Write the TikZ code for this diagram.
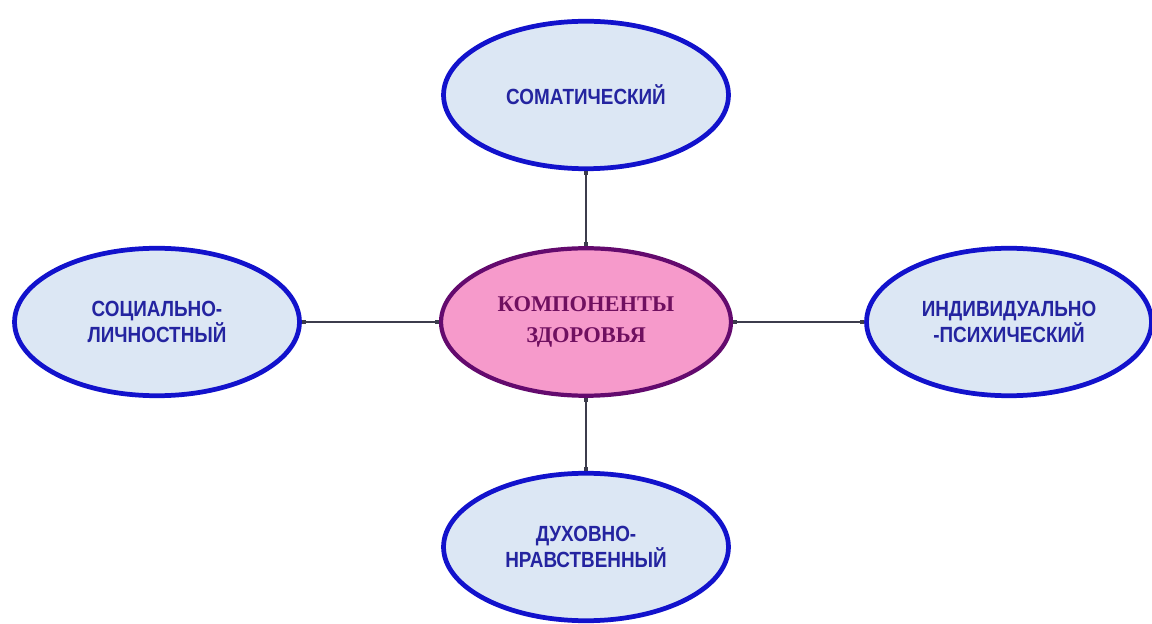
\documentclass[tikz,border=0pt]{standalone}
\usepackage{fontspec}
\setmainfont{Liberation Serif}
\newfontfamily\leaffont[FakeStretch=0.86]{Liberation Sans}
\usetikzlibrary{shapes.geometric, arrows.meta}
\definecolor{leafline}{HTML}{1212CC}
\definecolor{leaffill}{HTML}{DCE7F4}
\definecolor{leaftext}{HTML}{2424A0}
\definecolor{hubline}{HTML}{640A6E}
\definecolor{hubfill}{HTML}{F69ACB}
\definecolor{hubtext}{HTML}{701060}
\definecolor{linkgray}{HTML}{3C3C4C}

\begin{document}
\begin{tikzpicture}[x=0.02cm, y=-0.02cm,
    leaf/.style={ellipse, draw=leafline, line width=2.7pt, fill=leaffill,
        minimum width=5.7cm, minimum height=2.95cm, inner sep=0pt, align=center,
        text=leaftext, font=\leaffont\bfseries\fontsize{12.5}{15}\selectfont},
    hub/.style={ellipse, draw=hubline, line width=2.4pt, fill=hubfill,
        minimum width=5.8cm, minimum height=2.95cm, inner sep=0pt, align=center,
        text=hubtext, font=\bfseries\fontsize{12.8}{18}\selectfont},
    link/.style={draw=linkgray, line width=1.1pt,
        {Square[length=2.5pt,width=2.5pt]}-{Square[length=2.5pt,width=2.5pt]}}]
\useasboundingbox (0,0) rectangle (1152,624);
\node[hub] (hub) at (586,322) {КОМПОНЕНТЫ\\ЗДОРОВЬЯ};
\foreach \name/\pos/\txt in {som/{586,95}/{СОМАТИЧЕСКИЙ},
    soc/{157,322}/{СОЦИАЛЬНО-\\ЛИЧНОСТНЫЙ},
    ind/{1009,322}/{ИНДИВИДУАЛЬНО\\-ПСИХИЧЕСКИЙ},
    duh/{586,547}/{ДУХОВНО-\\НРАВСТВЕННЫЙ}} {
    \node[leaf] (\name) at (\pos) {\txt};
    \draw[link] (\name) -- (hub);
}
\end{tikzpicture}
\end{document}
